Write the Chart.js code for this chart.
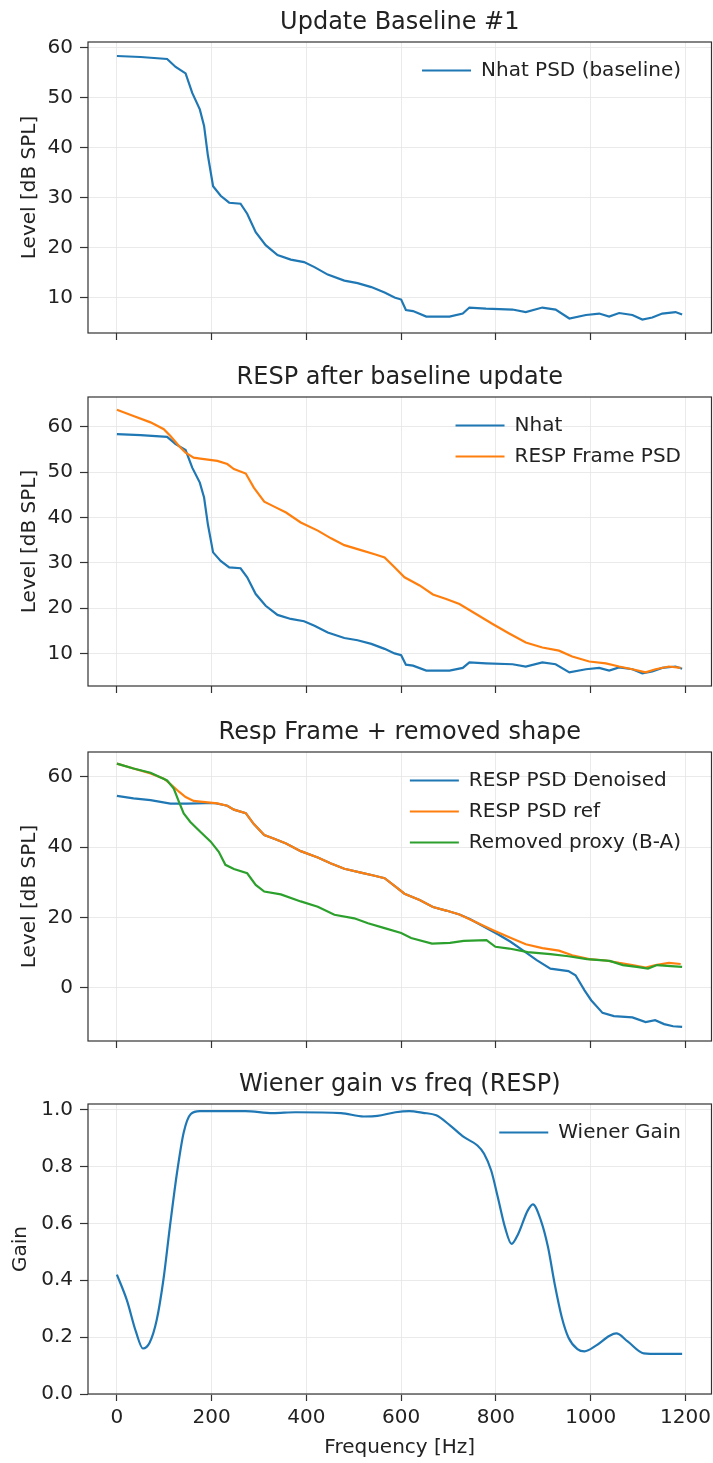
<!DOCTYPE html>
<html>
<head>
<meta charset="utf-8">
<script src="https://cdn.jsdelivr.net/npm/chart.js@4.4.1/dist/chart.umd.min.js"></script>
<style>
html,body{margin:0;padding:0;background:#fff;}
body{width:713px;height:1463px;position:relative;overflow:hidden;}
canvas{position:absolute;left:0;}
</style>
</head>
<body>
<canvas id="c1" width="713" height="337" style="top:8px;width:713px;height:337px"></canvas>
<canvas id="c2" width="713" height="335" style="top:363px;width:713px;height:335px"></canvas>
<canvas id="c3" width="713" height="335" style="top:718px;width:713px;height:335px"></canvas>
<canvas id="c4" width="713" height="393" style="top:1070px;width:713px;height:393px"></canvas>
<script>
// ---------------- data ----------------
const freqTicks = [0, 200, 400, 600, 800, 1000, 1200];
const levelTicksA = [10, 20, 30, 40, 50, 60];
const levelTicksB = [0, 20, 40, 60];
const gainTicks = [0, 0.2, 0.4, 0.6, 0.8, 1.0];

// Nhat PSD (baseline) - same curve in panels 1 and 2
const nhatHz = [0,50,106,124,145,159,175,184,192,203,219,237,261,275,293,314,339,367,395,417,445,480,508,537,565,586,600,610,625,653,702,730,744,779,835,863,898,926,955,990,1018,1039,1060,1088,1109,1130,1151,1179,1193];
const nhatDb = [58.4,58.2,57.8,56.2,54.9,51.0,47.7,44.4,38.5,32.3,30.4,29.0,28.8,26.8,23.1,20.5,18.5,17.6,17.1,16.1,14.6,13.4,12.9,12.1,11.0,10.0,9.6,7.5,7.3,6.2,6.2,6.8,8.0,7.8,7.6,7.1,8.0,7.6,5.8,6.5,6.8,6.2,6.9,6.5,5.6,6.0,6.8,7.1,6.6];

// RESP Frame PSD / RESP PSD ref
const respHz = [0,35,71,99,113,131,145,162,176,212,233,247,272,289,311,332,357,388,424,452,480,515,544,565,586,607,639,667,695,723,758,793,828,863,898,933,961,997,1032,1060,1088,1116,1137,1165,1190];
const respDb = [63.8,62.4,61.0,59.5,58.0,55.8,54.3,53.2,53.0,52.5,51.8,50.7,49.7,46.6,43.5,42.4,41.1,38.9,37.1,35.4,33.9,32.8,31.9,31.2,29.0,26.8,25.0,23.0,22.0,20.9,18.7,16.5,14.4,12.4,11.3,10.6,9.3,8.2,7.8,7.1,6.5,5.8,6.5,7.1,6.8];

// RESP PSD Denoised
const denoisedHz = [0,35,71,113,148,205,233,247,272,289,311,332,357,388,424,452,480,515,544,565,586,607,639,667,695,723,745,775,805,830,857,886,915,953,968,987,1001,1025,1049,1088,1116,1136,1155,1174,1193];
const denoisedDb = [54.6,53.9,53.4,52.4,52.4,52.6,51.8,50.7,49.7,46.6,43.5,42.4,41.1,38.9,37.1,35.4,33.9,32.8,31.9,31.2,29.0,26.8,25.0,23.0,22.0,20.9,19.6,17.4,15.2,13.2,10.7,7.9,5.5,4.8,3.6,-0.7,-3.5,-7.1,-8.0,-8.4,-9.7,-9.2,-10.3,-10.9,-11.1];

// Removed proxy (B-A)
const proxyHz = [0,35,71,106,120,131,141,155,176,198,215,229,247,275,293,311,346,388,424,459,501,530,565,600,621,665,703,732,780,799,828,867,915,953,992,1040,1068,1097,1121,1140,1169,1193];
const proxyDb = [63.8,62.4,61.2,59.0,56.7,52.9,49.6,47.2,44.4,41.6,38.7,35.0,33.8,32.6,29.3,27.4,26.6,24.6,23.1,20.8,19.8,18.4,17.0,15.6,14.2,12.6,12.8,13.4,13.6,11.7,11.2,10.2,9.6,9.0,8.2,7.7,6.5,6.0,5.5,6.5,6.2,6.0];

// Wiener Gain
const gainHz = [0,21,40,55,69,84,98,112,127,141,156,175,271,329,377,473,521,550,588,617,646,674,703,732,761,775,790,804,819,833,847,867,878,895,910,924,939,953,972,987,1011,1040,1054,1078,1112,1145,1193];
const gainVal = [0.42,0.33,0.22,0.16,0.18,0.26,0.40,0.59,0.78,0.92,0.985,0.995,0.995,0.988,0.991,0.988,0.976,0.978,0.991,0.995,0.989,0.98,0.945,0.904,0.874,0.845,0.786,0.692,0.587,0.528,0.563,0.645,0.667,0.61,0.516,0.387,0.27,0.199,0.158,0.15,0.17,0.205,0.213,0.185,0.143,0.141,0.141];

// ---------------- styling ----------------
Chart.defaults.font.family = "'DejaVu Sans', sans-serif";
Chart.defaults.font.size = 20;
Chart.defaults.color = '#222';
const C0 = '#1f77b4', C1 = '#ff7f0e', C2 = '#2ca02c';
const TEXT = '#222', GRID = '#e4e4e4', FRAME = '#333';
const X_MIN = -61, X_MAX = 1255;

function pts(xs, ys) { return xs.map((x, i) => ({x: x, y: ys[i]})); }
function series(label, xs, ys, color, order, extra) {
  return Object.assign({
    label: label, data: pts(xs, ys),
    borderColor: color, backgroundColor: color, borderWidth: 2.2,
    pointRadius: 0, pointHoverRadius: 0, pointStyle: 'line',
    pointBorderWidth: 2.2, pointBorderColor: color,
    tension: 0, order: order
  }, extra || {});
}

const framePlugin = {
  id: 'frame',
  afterDatasetsDraw(chart) {
    const ctx = chart.ctx, a = chart.chartArea;
    ctx.save();
    ctx.strokeStyle = FRAME; ctx.lineWidth = 1.2;
    ctx.strokeRect(a.left, a.top, a.right - a.left, a.bottom - a.top);
    ctx.restore();
  }
};
const legendPlace = {
  id: 'legendPlace',
  afterLayout(chart) {
    const lg = chart.legend; if (!lg) return;
    const a = chart.chartArea;
    const w = lg.width, h = lg.height;
    lg.left = a.right - 20.5 - w; lg.right = lg.left + w;
    lg.top = a.top + 7.5; lg.bottom = lg.top + h;
  }
};

function makePanel(id, o) {
  return new Chart(document.getElementById(id), {
    type: 'line',
    data: {datasets: o.datasets},
    options: {
      responsive: false, animation: false, devicePixelRatio: 1,
      layout: {padding: {left: 0, right: 1.5, top: 0, bottom: 0}},
      plugins: {
        title: {display: true, text: o.title, fullSize: false, color: TEXT,
                font: {size: 24, weight: 'normal', lineHeight: 1.2}, padding: {top: 0, bottom: 5.2}},
        legend: {position: 'chartArea', align: 'start',
                 labels: {usePointStyle: true, pointStyleWidth: 49, font: {size: 20}, color: TEXT, padding: 11,
                          sort: (a, b) => a.datasetIndex - b.datasetIndex}},
        tooltip: {enabled: false}
      },
      scales: {
        x: {
          type: 'linear', min: X_MIN, max: X_MAX,
          afterBuildTicks: s => { s.ticks = freqTicks.map(v => ({value: v})); },
          afterFit: s => { s.height = o.xh; s.paddingLeft = 0; s.paddingRight = 0; },
          grid: {color: GRID, lineWidth: 0.8, tickColor: FRAME, tickLength: 7, tickWidth: 1.2},
          border: {display: false},
          ticks: {display: o.showX, color: TEXT, font: {size: 20}, padding: 5, maxRotation: 0, autoSkip: false,
                  callback: v => String(v)},
          title: {display: o.showX, text: 'Frequency [Hz]', color: TEXT, font: {size: 20}, padding: {top: 0, bottom: 3}}
        },
        y: {
          type: 'linear', min: o.yMin, max: o.yMax,
          afterBuildTicks: s => { s.ticks = o.yTicks.map(v => ({value: v})); },
          afterFit: s => { s.width = 88; s.paddingTop = 0; s.paddingBottom = 0; },
          grid: {color: GRID, lineWidth: 0.8, tickColor: FRAME, tickLength: 8, tickWidth: 1.2},
          border: {display: false},
          ticks: {color: TEXT, font: {size: 20}, padding: 7, autoSkip: false, callback: o.fmt},
          title: {display: true, text: o.yLabel, color: TEXT, font: {size: 20}, padding: {top: o.yPad, bottom: 0}}
        }
      }
    },
    plugins: [legendPlace, framePlugin]
  });
}

const intFmt = v => String(v);

makePanel('c1', {
  title: 'Update Baseline #1',
  datasets: [series('Nhat PSD (baseline)', nhatHz, nhatDb, C0, 1)],
  yMin: 2.9, yMax: 61.2, yTicks: levelTicksA, fmt: intFmt,
  yLabel: 'Level [dB SPL]', yPad: 17.5, showX: false, xh: 12
});
makePanel('c2', {
  title: 'RESP after baseline update',
  datasets: [series('Nhat', nhatHz, nhatDb, C0, 2), series('RESP Frame PSD', respHz, respDb, C1, 1)],
  yMin: 2.8, yMax: 66.6, yTicks: levelTicksA, fmt: intFmt,
  yLabel: 'Level [dB SPL]', yPad: 17.5, showX: false, xh: 12
});
makePanel('c3', {
  title: 'Resp Frame + removed shape',
  datasets: [series('RESP PSD Denoised', denoisedHz, denoisedDb, C0, 3),
             series('RESP PSD ref', respHz, respDb, C1, 2),
             series('Removed proxy (B-A)', proxyHz, proxyDb, C2, 1)],
  yMin: -15.1, yMax: 67.1, yTicks: levelTicksB, fmt: intFmt,
  yLabel: 'Level [dB SPL]', yPad: 17.5, showX: false, xh: 12
});
makePanel('c4', {
  title: 'Wiener gain vs freq (RESP)',
  datasets: [series('Wiener Gain', gainHz, gainVal, C0, 1, {cubicInterpolationMode: 'monotone'})],
  yMin: 0, yMax: 1.02, yTicks: gainTicks, fmt: v => v.toFixed(1),
  yLabel: 'Gain', yPad: 8.5, showX: true, xh: 69
});
</script>
</body>
</html>
